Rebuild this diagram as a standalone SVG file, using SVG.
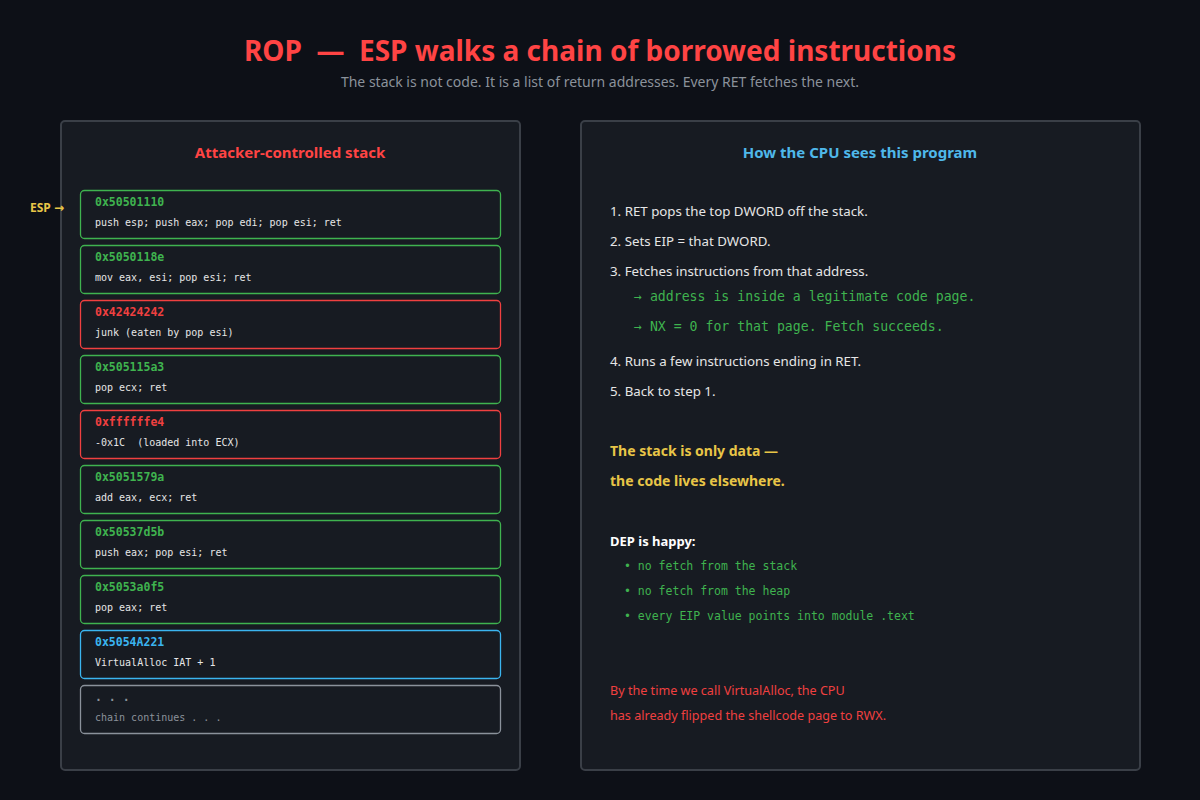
<svg xmlns="http://www.w3.org/2000/svg" width="1200" height="800" viewBox="0 0 1200 800">
<style>
.sans{font-family:"Noto Sans","Open Sans","DejaVu Sans",sans-serif}
.mono{font-family:"DejaVu Sans Mono","Liberation Mono",monospace}
.panel{fill:#171b22;stroke:#3a3f47;stroke-width:2}
.box{fill:#171b22;stroke-width:1.3}
.g{stroke:#3fb34f}.r{stroke:#f04040}.b{stroke:#3bb5f0}.n{stroke:#8b929b}
.addr{font-size:11.5px;font-weight:bold}
.ins{font-size:10px;fill:#e6e6e6}
.step{font-size:13.3px;fill:#e6e6e6}
.sub{font-size:13.2px;fill:#3fb34f}
.bul{font-size:11.5px;fill:#3fb34f}
</style>
<rect width="1200" height="800" fill="#0d1017"/>
<g id="title">
<text x="600" y="61" text-anchor="middle" class="sans" font-size="28" font-weight="bold" fill="#ff4444">ROP &#160;—&#160; ESP walks a chain of borrowed instructions</text>
<text x="600" y="87" text-anchor="middle" class="sans" font-size="14" fill="#8b929b">The stack is not code. It is a list of return addresses. Every RET fetches the next.</text>
</g>
<g id="stack-panel">
<rect class="panel" x="61" y="121" width="459" height="649" rx="4"/>
<text x="290" y="158" text-anchor="middle" class="sans" font-size="15" font-weight="bold" fill="#ff4444">Attacker-controlled stack</text>
</g>
<g id="esp-label"><text x="30" y="212" class="sans" font-size="12" font-weight="bold" fill="#e8c547">ESP →</text></g>
<g id="s1"><rect class="box g" x="80.5" y="190.5" width="420" height="48" rx="4"/><text x="95" y="206" class="mono addr" fill="#3fb34f">0x50501110</text><text x="95" y="226" class="mono ins">push esp; push eax; pop edi; pop esi; ret</text></g>
<g id="s2"><rect class="box g" x="80.5" y="245.5" width="420" height="48" rx="4"/><text x="95" y="261" class="mono addr" fill="#3fb34f">0x5050118e</text><text x="95" y="281" class="mono ins">mov eax, esi; pop esi; ret</text></g>
<g id="s3"><rect class="box r" x="80.5" y="300.5" width="420" height="48" rx="4"/><text x="95" y="316" class="mono addr" fill="#f04040">0x42424242</text><text x="95" y="336" class="mono ins">junk (eaten by pop esi)</text></g>
<g id="s4"><rect class="box g" x="80.5" y="355.5" width="420" height="48" rx="4"/><text x="95" y="371" class="mono addr" fill="#3fb34f">0x505115a3</text><text x="95" y="391" class="mono ins">pop ecx; ret</text></g>
<g id="s5"><rect class="box r" x="80.5" y="410.5" width="420" height="48" rx="4"/><text x="95" y="426" class="mono addr" fill="#f04040">0xffffffe4</text><text x="95" y="446" class="mono ins" xml:space="preserve">-0x1C  (loaded into ECX)</text></g>
<g id="s6"><rect class="box g" x="80.5" y="465.5" width="420" height="48" rx="4"/><text x="95" y="481" class="mono addr" fill="#3fb34f">0x5051579a</text><text x="95" y="501" class="mono ins">add eax, ecx; ret</text></g>
<g id="s7"><rect class="box g" x="80.5" y="520.5" width="420" height="48" rx="4"/><text x="95" y="536" class="mono addr" fill="#3fb34f">0x50537d5b</text><text x="95" y="556" class="mono ins">push eax; pop esi; ret</text></g>
<g id="s8"><rect class="box g" x="80.5" y="575.5" width="420" height="48" rx="4"/><text x="95" y="591" class="mono addr" fill="#3fb34f">0x5053a0f5</text><text x="95" y="611" class="mono ins">pop eax; ret</text></g>
<g id="s9"><rect class="box b" x="80.5" y="630.5" width="420" height="48" rx="4"/><text x="95" y="646" class="mono addr" fill="#3bb5f0">0x5054A221</text><text x="95" y="666" class="mono ins">VirtualAlloc IAT + 1</text></g>
<g id="s10"><rect class="box n" x="80.5" y="685.5" width="420" height="48" rx="4"/><text x="95" y="701" class="mono addr" fill="#8b929b">. . .</text><text x="95" y="721" class="mono ins" style="fill:#8b929b">chain continues . . .</text></g>
<g id="cpu-panel">
<rect class="panel" x="581" y="121" width="559" height="649" rx="4"/>
<text x="860" y="158" text-anchor="middle" class="sans" font-size="15" font-weight="bold" fill="#4fb8ea">How the CPU sees this program</text>
<text x="610" y="216" class="sans step">1. RET pops the top DWORD off the stack.</text>
<text x="610" y="246" class="sans step">2. Sets EIP = that DWORD.</text>
<text x="610" y="276" class="sans step">3. Fetches instructions from that address.</text>
<text x="634" y="301" class="mono sub">→ address is inside a legitimate code page.</text>
<text x="634" y="331" class="mono sub">→ NX = 0 for that page. Fetch succeeds.</text>
<text x="610" y="366" class="sans step">4. Runs a few instructions ending in RET.</text>
<text x="610" y="396" class="sans step">5. Back to step 1.</text>
<text x="610" y="456" class="sans" font-size="14" font-weight="bold" fill="#e8c547">The stack is only data —</text>
<text x="610" y="486" class="sans" font-size="14" font-weight="bold" fill="#e8c547">the code lives elsewhere.</text>
<text x="610" y="546" class="sans" font-size="13" font-weight="bold" fill="#ffffff">DEP is happy:</text>
<text x="624" y="570" class="mono bul">• no fetch from the stack</text>
<text x="624" y="595" class="mono bul">• no fetch from the heap</text>
<text x="624" y="620" class="mono bul">• every EIP value points into module .text</text>
<text x="610" y="695" class="sans" font-size="12.6" fill="#f04040">By the time we call VirtualAlloc, the CPU</text>
<text x="610" y="720" class="sans" font-size="12.6" fill="#f04040">has already flipped the shellcode page to RWX.</text>
</g>
</svg>
